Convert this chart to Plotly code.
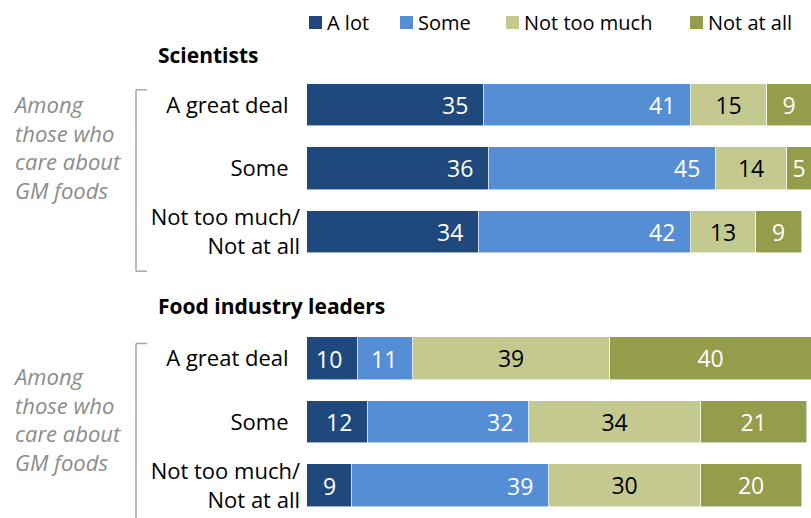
import plotly.graph_objects as go

# ---- data ----
groups = ["Scientists", "Food industry leaders"]
row_labels = ["A great deal\u00a0\u00a0", "Some\u00a0\u00a0", "Not too much/<br>Not at all"]
series = ["A lot", "Some", "Not too much", "Not at all"]
scientists = {
    "A lot": [35, 36, 34],
    "Some": [41, 45, 42],
    "Not too much": [15, 14, 13],
    "Not at all": [9, 5, 9],
}
food_leaders = {
    "A lot": [10, 12, 9],
    "Some": [11, 32, 39],
    "Not too much": [39, 34, 30],
    "Not at all": [40, 21, 20],
}
side_note = "Among<br>those who<br>care about<br>GM foods"

colors = {"A lot": "#1F497D", "Some": "#558ED5", "Not too much": "#C4CA8F", "Not at all": "#959D4B"}
text_colors = {"A lot": "white", "Some": "white", "Not too much": "black", "Not at all": "white"}

FONT = "Open Sans, Liberation Sans, sans-serif"
W, H = 811, 518
L = 307
PW = W - L

def px_x(px):
    return (px - L) / PW

def px_y(py):
    return (H - py) / H

# y positions: group 1 rows 0..2, group 2 rows 4..6
ypos = [0, 1, 2, 4, 5, 6]
data_by_series = {s: scientists[s] + food_leaders[s] for s in series}

fig = go.Figure()
for s in series:
    vals = data_by_series[s]
    centered = s in ("Not too much", "Not at all")
    fig.add_trace(go.Bar(
        y=ypos, x=vals, orientation="h", name=s,
        marker=dict(color=colors[s], line=dict(color="rgba(255,255,255,0.7)", width=0.8)),
        width=0.67,
        text=[str(v) for v in vals] if centered else None,
        textposition="inside" if centered else "none",
        insidetextanchor="middle",
        textfont=dict(family=FONT, size=23, color=text_colors[s]),
        showlegend=False, hoverinfo="skip",
    ))

annotations = []
# right-aligned value labels for "A lot" and "Some"
cum = [0] * len(ypos)
for s in series:
    vals = data_by_series[s]
    for i, v in enumerate(vals):
        end = cum[i] + v
        if s in ("A lot", "Some"):
            annotations.append(dict(
                x=end, y=ypos[i], xref="x", yref="y", text=str(v),
                xanchor="right", yanchor="middle", xshift=-14, showarrow=False,
                font=dict(family=FONT, size=23, color=text_colors[s]),
            ))
        cum[i] = end

# group titles
for title, yv in zip(groups, [-0.79, 3.17]):
    annotations.append(dict(
        x=px_x(156), y=yv, xref="paper", yref="y", text="<b>" + title + "</b>",
        xanchor="left", yanchor="middle", showarrow=False,
        font=dict(family=FONT, size=21, color="black"),
    ))

# side notes
for yv in [0.66, 4.95]:
    annotations.append(dict(
        x=px_x(11), y=yv, xref="paper", yref="y", text=side_note,
        xanchor="left", yanchor="middle", align="left", showarrow=False,
        font=dict(family=FONT, size=22, color="#8C8C8C", style="italic"),
    ))

shapes = []
# brackets
for base in [0, 4]:
    top, bot = base - 0.24, base + 2.62
    xv, xt = px_x(136), px_x(147)
    for (x0, y0, x1, y1) in [(xv, top, xv, bot), (xv, top, xt, top), (xv, bot, xt, bot)]:
        shapes.append(dict(type="line", xref="paper", yref="y", x0=x0, y0=y0, x1=x1, y1=y1,
                           line=dict(color="#A6A6A6", width=1.5)))

# manual legend
legend_sq = [309, 400, 506, 690]
for s, sx in zip(series, legend_sq):
    shapes.append(dict(type="rect", xref="paper", yref="paper",
                       x0=px_x(sx), x1=px_x(sx + 13), y0=px_y(29), y1=px_y(16),
                       fillcolor=colors[s], line=dict(width=0)))
    annotations.append(dict(
        x=px_x(sx + 16), y=px_y(22.5), xref="paper", yref="paper", text=s,
        xanchor="left", yanchor="middle", showarrow=False,
        font=dict(family=FONT, size=20, color="black"),
    ))

fig.update_layout(
    width=W, height=H, autosize=False,
    margin=dict(l=L, r=0, t=0, b=0),
    barmode="stack", bargap=0,
    plot_bgcolor="white", paper_bgcolor="white",
    font=dict(family=FONT, size=22, color="black"),
    xaxis=dict(range=[0, PW / 5.05], visible=False, fixedrange=True),
    yaxis=dict(range=[6.512, -1.656], tickvals=ypos, ticktext=row_labels * 2,
               showgrid=False, zeroline=False, showline=False, ticks="",
               ticklabelstandoff=6, tickfont=dict(family=FONT, size=22, color="black"),
               fixedrange=True),
    annotations=annotations, shapes=shapes,
    uniformtext=dict(mode="show", minsize=10),
)

fig.write_html(
    "out.html",
    config={"displayModeBar": False},
    post_script="document.body.style.margin='0';document.body.style.overflow='hidden';",
)
